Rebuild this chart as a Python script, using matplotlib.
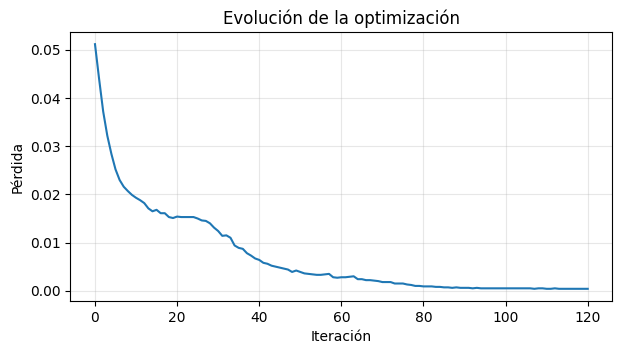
import matplotlib
matplotlib.use("Agg")
import matplotlib.pyplot as plt
import numpy as np

iterations = list(range(0, 121))
loss = [
    0.0512, 0.0440, 0.0372, 0.0322, 0.0284, 0.0252, 0.0230, 0.0216, 0.0207, 0.0199,
    0.0193, 0.0188, 0.0182, 0.0171, 0.0165, 0.0168, 0.0161, 0.0161, 0.0153, 0.0151,
    0.0154, 0.0153, 0.0153, 0.0153, 0.0153, 0.0150, 0.0146, 0.0145, 0.0140, 0.0131,
    0.0124, 0.0114, 0.0115, 0.0110, 0.0094, 0.0089, 0.0087, 0.0078, 0.0073, 0.0067,
    0.0064, 0.0058, 0.0056, 0.0052, 0.0050, 0.0048, 0.0046, 0.0044, 0.0039, 0.0042,
    0.0039, 0.0036, 0.0035, 0.0034, 0.0033, 0.0033, 0.0034, 0.0035, 0.0028, 0.0027,
    0.0028, 0.0028, 0.0029, 0.0030, 0.0024, 0.0024, 0.0022, 0.0022, 0.0021, 0.0020,
    0.0018, 0.0018, 0.0018, 0.0015, 0.0015, 0.0015, 0.0013, 0.0012, 0.0010, 0.0010,
    0.0009, 0.0009, 0.0009, 0.0008, 0.0008, 0.0007, 0.0007, 0.0006, 0.0007, 0.0006,
    0.0006, 0.0006, 0.0005, 0.0006, 0.0005, 0.0005, 0.0005, 0.0005, 0.0005, 0.0005,
    0.0005, 0.0005, 0.0005, 0.0005, 0.0005, 0.0005, 0.0005, 0.0004, 0.0005, 0.0005,
    0.0004, 0.0004, 0.0005, 0.0004, 0.0004, 0.0004, 0.0004, 0.0004, 0.0004, 0.0004,
    0.0004,
]

fig = plt.figure(figsize=(6.22, 3.55), dpi=100)
ax = fig.add_axes([0.1131, 0.152, 0.8714, 0.758])
ax.plot(iterations, loss, color="#1f77b4", linewidth=1.5)
ax.set_title("Evolución de la optimización")
ax.set_xlabel("Iteración")
ax.set_ylabel("Pérdida")
ax.grid(True, alpha=0.3)
fig.savefig("out.png", dpi=100)
